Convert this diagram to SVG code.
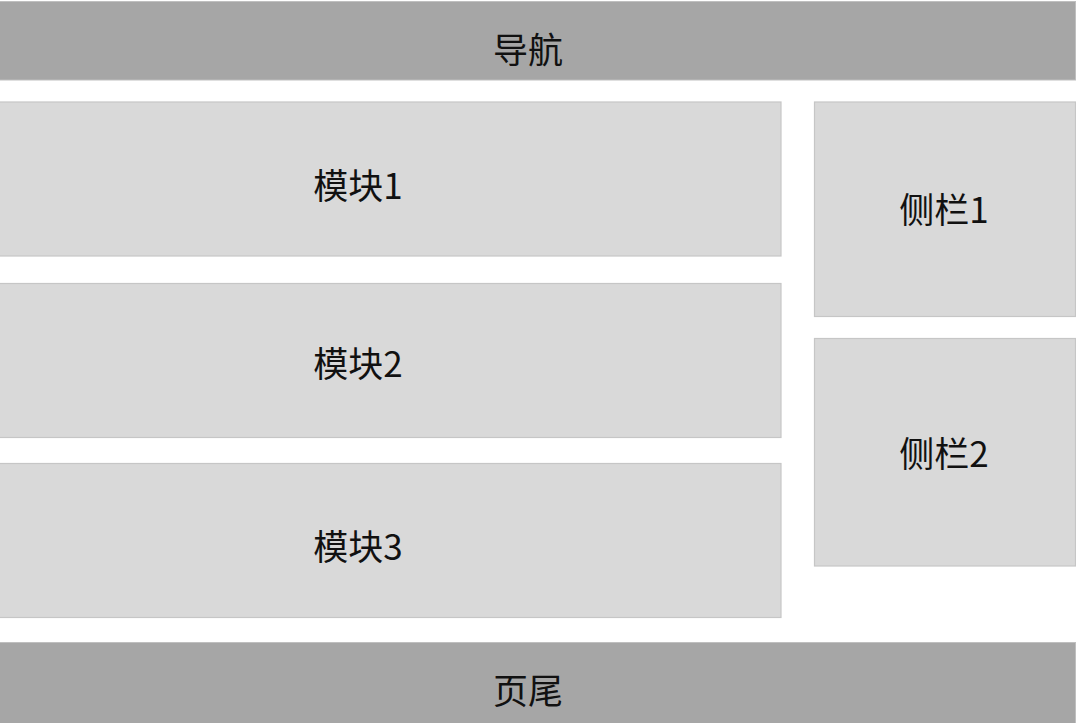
<svg xmlns="http://www.w3.org/2000/svg" width="1076" height="723" viewBox="0 0 1076 723">
<style>
.bar{fill:#a6a6a6;stroke:#bfbfbf;stroke-width:1}
.box{fill:#d9d9d9;stroke:#c6c6c6;stroke-width:1.2}
.t{font-family:"Noto Sans CJK SC","Noto Sans",sans-serif;font-size:35px;fill:#111;text-anchor:middle;dominant-baseline:central}
</style>
<rect width="1076" height="723" fill="#ffffff"/>
<g id="nav"><rect class="bar" x="-1" y="1.5" width="1076.5" height="78.5"/><text class="t" x="528" y="47">导航</text></g>
<g id="module1"><rect class="box" x="-1" y="102" width="782" height="154"/><text class="t" x="358" y="183">模块1</text></g>
<g id="module2"><rect class="box" x="-1" y="283.5" width="782" height="154"/><text class="t" x="358" y="361">模块2</text></g>
<g id="module3"><rect class="box" x="-1" y="463.5" width="782" height="154"/><text class="t" x="358" y="544">模块3</text></g>
<g id="sidebar1"><rect class="box" x="814.5" y="102" width="261" height="214.5"/><text class="t" x="944" y="207">侧栏1</text></g>
<g id="sidebar2"><rect class="box" x="814.5" y="338.5" width="261" height="227.5"/><text class="t" x="944" y="451">侧栏2</text></g>
<g id="footer"><rect class="bar" x="-1" y="642.5" width="1076.5" height="82"/><text class="t" x="528" y="688">页尾</text></g>
<g id="connectors"></g>
</svg>
